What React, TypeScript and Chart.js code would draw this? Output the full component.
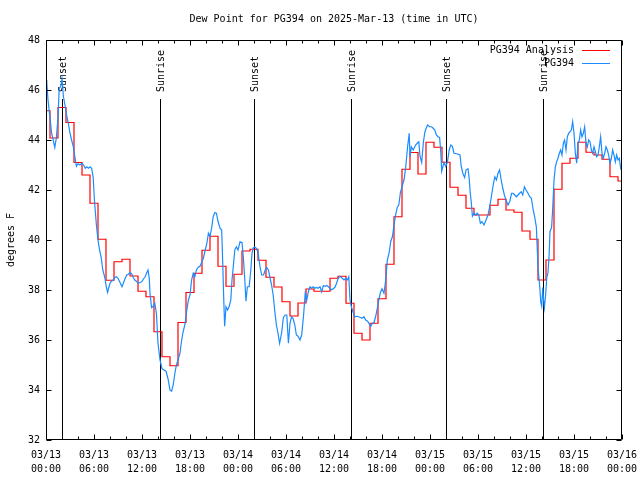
import React, { useEffect, useRef } from "react";
import { Chart, registerables } from "chart.js";

Chart.register(...registerables);

const chartTitle = "Dew Point for PG394 on 2025-Mar-13 (time in UTC)";
const yAxisTitle = "degrees F";
const analysisLabel = "PG394 Analysis";
const obsLabel = "PG394";

const xTickLabels = [
  ["03/13", "00:00"], ["03/13", "06:00"], ["03/13", "12:00"], ["03/13", "18:00"],
  ["03/14", "00:00"], ["03/14", "06:00"], ["03/14", "12:00"], ["03/14", "18:00"],
  ["03/15", "00:00"], ["03/15", "06:00"], ["03/15", "12:00"], ["03/15", "18:00"],
  ["03/16", "00:00"],
];

// hours since 03/13 00:00 UTC
const analysisHours = [
  0, 1, 2, 3, 4, 5, 6, 7, 8, 9, 10, 11, 12, 13, 14, 15, 16, 17, 18, 19, 20, 21, 22, 23, 24,
  25, 26, 27, 28, 29, 30, 31, 32, 33, 34, 35, 36, 37, 38, 39, 40, 41, 42, 43, 44, 45, 46, 47, 48,
  49, 50, 51, 52, 53, 54, 55, 56, 57, 58, 59, 60, 61, 62, 63, 64, 65, 66, 67, 68, 69, 70, 71, 72,
];
const analysisValues = [
  45.17, 44.08, 45.3, 44.7, 43.1, 42.6, 41.47, 40.03, 38.39, 39.13, 39.23, 38.56, 37.95, 37.73,
  36.33, 35.33, 34.97, 36.7, 37.9, 38.67, 39.59, 40.15, 38.95, 38.15, 38.63, 39.56, 39.63, 39.19,
  38.51, 38.12, 37.53, 36.96, 37.48, 38.04, 37.95, 37.95, 38.47, 38.55, 37.47, 36.27, 36.0, 36.67,
  37.65, 39.03, 40.93, 42.83, 43.5, 42.64, 43.91, 43.71, 43.11, 42.11, 41.79, 41.27, 41.0, 41.0,
  41.39, 41.63, 41.2, 41.11, 40.36, 40.03, 38.4, 39.2, 42.03, 43.07, 43.27, 43.91, 43.51, 43.4,
  43.23, 42.53, 42.36,
];

const obsHours = [
  0.0, 0.1, 0.25, 0.5, 0.7, 0.9, 1.1, 1.3, 1.5, 1.65, 1.85, 2.0, 2.17, 2.4, 2.6, 2.8, 3.0, 3.2, 3.4,
  3.6, 3.8, 4.0, 4.25, 4.5, 4.7, 4.9, 5.1, 5.3, 5.5, 5.7, 5.9, 6.05, 6.3, 6.5, 6.7, 6.9, 7.1, 7.35,
  7.55, 7.7, 7.85, 8.0, 8.2, 8.4, 8.6, 8.8, 9.0, 9.25, 9.5, 9.7, 9.9, 10.1, 10.3, 10.5, 10.7, 10.9,
  11.1, 11.3, 11.5, 11.75, 11.96, 12.2, 12.4, 12.6, 12.75, 12.9, 13.0, 13.2, 13.4, 13.6, 13.8, 14.0,
  14.25, 14.5, 14.75, 15.0, 15.25, 15.5, 15.7, 15.9, 16.1, 16.3, 16.5, 16.75, 16.9, 17.1, 17.4,
  17.6, 17.8, 18.0, 18.2, 18.4, 18.6, 18.8, 19.0, 19.25, 19.46, 19.67, 19.9, 20.1, 20.3, 20.5,
  20.7, 20.9, 21.1, 21.3, 21.5, 21.75, 21.96, 22.1, 22.2, 22.33, 22.5, 22.7, 22.9, 23.1, 23.25,
  23.4, 23.6, 23.8, 24.0, 24.25, 24.5, 24.67, 24.85, 25.0, 25.17, 25.4, 25.6, 25.75, 25.9, 26.1,
  26.3, 26.5, 26.75, 26.96, 27.2, 27.4, 27.6, 27.8, 28.0, 28.2, 28.4, 28.6, 28.8, 29.0, 29.2,
  29.46, 29.67, 29.9, 30.1, 30.3, 30.5, 30.7, 30.9, 31.1, 31.3, 31.5, 31.75, 31.96, 32.2, 32.4,
  32.6, 32.8, 33.0, 33.2, 33.4, 33.6, 33.8, 34.0, 34.25, 34.46, 34.67, 34.9, 35.1, 35.3, 35.5,
  35.7, 35.9, 36.1, 36.3, 36.5, 36.75, 37.0, 37.25, 37.46, 37.67, 37.85, 38.0, 38.17, 38.4, 38.6,
  38.9, 39.3, 39.5, 39.75, 39.96, 40.2, 40.4, 40.6, 40.8, 41.0, 41.2, 41.4, 41.6, 41.8, 42.0,
  42.25, 42.46, 42.67, 42.9, 43.1, 43.3, 43.5, 43.7, 43.9, 44.1, 44.3, 44.5, 44.75, 44.96, 45.2,
  45.4, 45.5, 45.67, 45.9, 46.2, 46.4, 46.6, 46.75, 46.96, 47.17, 47.35, 47.5, 47.7, 47.96, 48.2,
  48.4, 48.6, 48.8, 49.0, 49.2, 49.35, 49.46, 49.6, 49.75, 49.96, 50.17, 50.4, 50.6, 50.8, 51.0,
  51.33, 51.75, 51.9, 52.1, 52.33, 52.5, 52.75, 52.9, 53.0, 53.17, 53.3, 53.5, 53.7, 53.9, 54.1,
  54.3, 54.5, 54.75, 55.0, 55.25, 55.46, 55.67, 55.9, 56.1, 56.3, 56.5, 56.7, 56.9, 57.1, 57.3,
  57.5, 57.75, 57.96, 58.2, 58.4, 58.6, 58.8, 59.0, 59.2, 59.4, 59.6, 59.8, 60.0, 60.25, 60.46,
  60.67, 60.9, 61.1, 61.3, 61.4, 61.5, 61.7, 61.85, 61.96, 62.1, 62.2, 62.3, 62.45, 62.6, 62.75,
  62.9, 63.0, 63.2, 63.33, 63.5, 63.67, 63.83, 64.0, 64.17, 64.33, 64.5, 64.67, 64.83, 65.0,
  65.17, 65.33, 65.5, 65.67, 65.83, 66.0, 66.17, 66.33, 66.5, 66.67, 66.83, 67.0, 67.17, 67.33,
  67.5, 67.67, 67.83, 68.0, 68.17, 68.33, 68.5, 68.67, 68.83, 69.0, 69.17, 69.33, 69.5, 69.67,
  69.83, 70.0, 70.17, 70.33, 70.5, 70.67, 70.83, 71.0, 71.17, 71.33, 71.5, 71.67, 71.83, 72.0,
];
const obsValues = [
  46.4, 46.3, 45.6, 44.9, 44.27, 44.0, 43.7, 44.1, 44.9, 46.05, 46.15, 46.45, 45.75, 45.35, 44.95,
  44.65, 44.27, 44.0, 43.75, 43.35, 42.95, 43.05, 43.0, 43.07, 43.0, 42.87, 42.93, 42.87, 42.93,
  42.87, 42.5, 41.6, 40.6, 40.0, 39.6, 39.3, 38.8, 38.5, 38.1, 37.9, 38.1, 38.27, 38.35, 38.4,
  38.5, 38.53, 38.47, 38.3, 38.13, 38.3, 38.47, 38.6, 38.63, 38.7, 38.65, 38.5, 38.4, 38.35,
  38.27, 38.3, 38.33, 38.45, 38.53, 38.7, 38.8, 38.5, 37.87, 37.3, 37.35, 37.47, 37.07, 35.87,
  35.2, 34.85, 34.8, 34.75, 34.45, 34.0, 33.95, 34.2, 34.65, 35.0, 35.2, 35.47, 35.87, 36.27,
  36.67, 37.2, 37.6, 37.8, 38.4, 38.67, 38.53, 38.8, 38.9, 38.95, 39.1, 39.27, 39.6, 39.85, 40.27,
  40.15, 40.47, 40.93, 41.1, 41.07, 40.75, 40.47, 40.4, 39.0, 37.8, 36.55, 37.33, 37.2, 37.35,
  37.6, 38.4, 38.9, 39.6, 39.73, 39.6, 39.93, 39.9, 39.3, 38.4, 37.55, 38.13, 38.13, 38.8, 39.47,
  39.68, 39.72, 39.67, 39.5, 38.93, 38.6, 38.6, 38.8, 38.9, 38.8, 38.5, 38.2, 37.8, 37.15, 36.6,
  36.27, 35.87, 36.3, 36.9, 37.0, 37.0, 35.87, 36.67, 36.93, 36.85, 36.6, 36.2, 36.15, 36.0, 36.2,
  37.0, 37.87, 37.6, 37.95, 38.13, 38.07, 38.13, 38.07, 38.1, 38.07, 38.13, 37.93, 38.18, 38.15,
  38.18, 38.13, 38.07, 38.0, 38.05, 38.1, 38.25, 38.45, 38.55, 38.48, 38.4, 38.47, 38.4, 38.53,
  37.6, 37.33, 37.1, 36.93, 36.95, 36.9, 36.87, 36.93, 36.8, 36.75, 36.64, 36.55, 36.67, 36.7,
  36.93, 37.25, 37.6, 37.9, 38.05, 37.87, 38.4, 39.2, 39.5, 39.95, 40.13, 40.6, 41.0, 41.3, 41.4,
  41.9, 42.13, 42.4, 42.9, 43.73, 44.27, 43.33, 43.73, 43.6, 43.8, 43.87, 43.93, 43.35, 43.1, 43.9,
  44.3, 44.45, 44.6, 44.53, 44.53, 44.47, 44.4, 44.2, 44.13, 44.1, 43.5, 42.75, 42.93, 43.1,
  42.95, 43.1, 43.6, 43.8, 43.75, 43.47, 43.45, 43.4, 42.95, 42.67, 42.5, 42.8, 42.85, 42.45,
  42.0, 41.47, 40.95, 41.07, 41.0, 41.07, 41.0, 40.67, 40.73, 40.6, 40.8, 41.0, 41.33, 41.73,
  42.2, 42.53, 42.4, 42.67, 42.8, 42.4, 42.07, 41.8, 41.6, 41.4, 41.53, 41.87, 41.87, 41.8, 41.73,
  41.8, 41.87, 41.93, 41.8, 42.13, 42.0, 41.87, 41.73, 41.67, 41.2, 40.9, 40.5, 39.7, 38.9, 38.2,
  37.5, 37.35, 38.1, 37.6, 37.3, 37.8, 38.5, 38.7, 39.45, 40.35, 40.5, 41.2, 42.4, 42.93, 43.13,
  43.27, 43.47, 43.6, 43.4, 43.87, 44.0, 43.6, 44.13, 44.27, 44.33, 44.4, 44.73, 44.27, 43.47,
  43.07, 43.87, 44.0, 44.4, 44.13, 44.27, 44.53, 43.87, 43.73, 44.0, 43.93, 43.6, 43.47, 43.73,
  43.53, 43.33, 43.4, 43.73, 44.13, 43.47, 43.27, 43.47, 43.73, 43.6, 43.4, 43.07, 43.27, 43.6,
  43.4, 43.13, 43.4, 43.2, 43.27, 42.87, 43.0,
];

const sunEventHours = [2.03, 14.25, 26.03, 38.17, 50.03, 62.17];
const sunEventLabels = ["Sunset", "Sunrise", "Sunset", "Sunrise", "Sunset", "Sunrise"];

const FONT_FAMILY = "'DejaVu Sans Mono', 'Liberation Mono', monospace";
const FONT = `10px ${FONT_FAMILY}`;
const RED = "#ff0000";
const BLUE = "#1a8cff";

const overlayPlugin = {
  id: "gnuplotOverlay",
  beforeDatasetsDraw(chart: any) {
    const { ctx, chartArea: a, scales } = chart;
    const x = scales.x;
    ctx.save();
    ctx.strokeStyle = "#000";
    ctx.fillStyle = "#000";
    ctx.lineWidth = 1;
    ctx.font = FONT;
    sunEventHours.forEach((h, i) => {
      const px = Math.round(x.getPixelForValue(h)) + 0.5;
      ctx.beginPath();
      ctx.moveTo(px, a.top + 59);
      ctx.lineTo(px, a.bottom);
      ctx.stroke();
      ctx.save();
      ctx.translate(px + 1, a.top + 52);
      ctx.rotate(-Math.PI / 2);
      ctx.textAlign = "left";
      ctx.textBaseline = "middle";
      ctx.fillText(sunEventLabels[i], 0, 0);
      ctx.restore();
    });
    ctx.restore();
  },
  afterDraw(chart: any) {
    const { ctx, chartArea: a, scales } = chart;
    const x = scales.x;
    const y = scales.y;
    ctx.save();
    ctx.strokeStyle = "#000";
    ctx.lineWidth = 1;
    const L = Math.round(a.left) + 0.5;
    const R = Math.round(a.right) - 0.5;
    const T = Math.round(a.top) + 0.5;
    const B = Math.round(a.bottom) - 0.5;
    ctx.beginPath();
    ctx.rect(L, T, R - L, B - T);
    ctx.stroke();
    ctx.beginPath();
    for (let h = 0; h <= 72; h += 2) {
      const px = Math.round(x.getPixelForValue(h)) + 0.5;
      const len = h % 6 === 0 ? 5 : 3;
      ctx.moveTo(px, B);
      ctx.lineTo(px, B - len);
      ctx.moveTo(px, T);
      ctx.lineTo(px, T + len);
    }
    for (let v = 32; v <= 48; v += 2) {
      const py = Math.round(y.getPixelForValue(v)) + 0.5;
      ctx.moveTo(L, py);
      ctx.lineTo(L + 5, py);
      ctx.moveTo(R, py);
      ctx.lineTo(R - 5, py);
    }
    ctx.stroke();

    ctx.fillStyle = "#000";
    ctx.font = FONT;
    ctx.textAlign = "center";
    ctx.textBaseline = "middle";
    ctx.fillText(chartTitle, (a.left + a.right) / 2, 19);
    ctx.save();
    ctx.translate(11, (a.top + a.bottom) / 2);
    ctx.rotate(-Math.PI / 2);
    ctx.fillText(yAxisTitle, 0, 0);
    ctx.restore();

    const entries = [
      { label: analysisLabel, color: RED },
      { label: obsLabel, color: BLUE },
    ];
    entries.forEach((e, i) => {
      const cy = a.top + 10 + i * 13;
      ctx.textAlign = "right";
      ctx.textBaseline = "middle";
      ctx.fillStyle = "#000";
      ctx.fillText(e.label, a.right - 48, cy);
      ctx.strokeStyle = e.color;
      ctx.beginPath();
      ctx.moveTo(a.right - 40, Math.round(cy) + 0.5);
      ctx.lineTo(a.right - 12, Math.round(cy) + 0.5);
      ctx.stroke();
    });
    ctx.restore();
  },
};

export default function App() {
  const canvasRef = useRef<HTMLCanvasElement | null>(null);

  useEffect(() => {
    const canvas = canvasRef.current;
    if (!canvas) return;
    const analysisData = analysisHours.map((h, i) => ({ x: h, y: analysisValues[i] }));
    const obsData = obsHours.map((h, i) => ({ x: h, y: obsValues[i] }));
    const chart = new Chart(canvas, {
      type: "line",
      data: {
        datasets: [
          {
            label: analysisLabel,
            data: analysisData,
            borderColor: RED,
            borderWidth: 1.2,
            pointRadius: 0,
            stepped: "middle",
            fill: false,
            order: 2,
          },
          {
            label: obsLabel,
            data: obsData,
            borderColor: BLUE,
            borderWidth: 1.2,
            pointRadius: 0,
            tension: 0,
            fill: false,
            order: 1,
          },
        ],
      },
      options: {
        animation: false,
        responsive: false,
        devicePixelRatio: 1,
        layout: { padding: { top: 40, right: 18, left: 0, bottom: 0 } },
        plugins: {
          legend: { display: false },
          title: { display: false },
          tooltip: { enabled: false },
        },
        scales: {
          x: {
            type: "linear",
            min: 0,
            max: 72,
            grid: { display: false, drawTicks: false },
            border: { display: false },
            ticks: {
              stepSize: 6,
              autoSkip: false,
              maxRotation: 0,
              minRotation: 0,
              padding: 8,
              color: "#000",
              font: { family: FONT_FAMILY, size: 10, lineHeight: 1.4 },
              callback: (v: any) => xTickLabels[Math.round(Number(v) / 6)] ?? "",
            },
            afterFit: (s: any) => {
              s.height = 40;
              s.paddingLeft = 0;
              s.paddingRight = 0;
            },
          },
          y: {
            type: "linear",
            min: 32,
            max: 48,
            grid: { display: false, drawTicks: false },
            border: { display: false },
            ticks: {
              stepSize: 2,
              padding: 6,
              color: "#000",
              font: { family: FONT_FAMILY, size: 10 },
            },
            afterFit: (s: any) => {
              s.width = 46;
              s.paddingTop = 0;
              s.paddingBottom = 0;
            },
          },
        },
      },
      plugins: [overlayPlugin],
    });
    return () => chart.destroy();
  }, []);

  return (
    <div style={{ position: "fixed", left: 0, top: 0, width: 640, height: 480, background: "#fff" }}>
      <canvas ref={canvasRef} width={640} height={480} style={{ width: 640, height: 480 }} />
    </div>
  );
}
